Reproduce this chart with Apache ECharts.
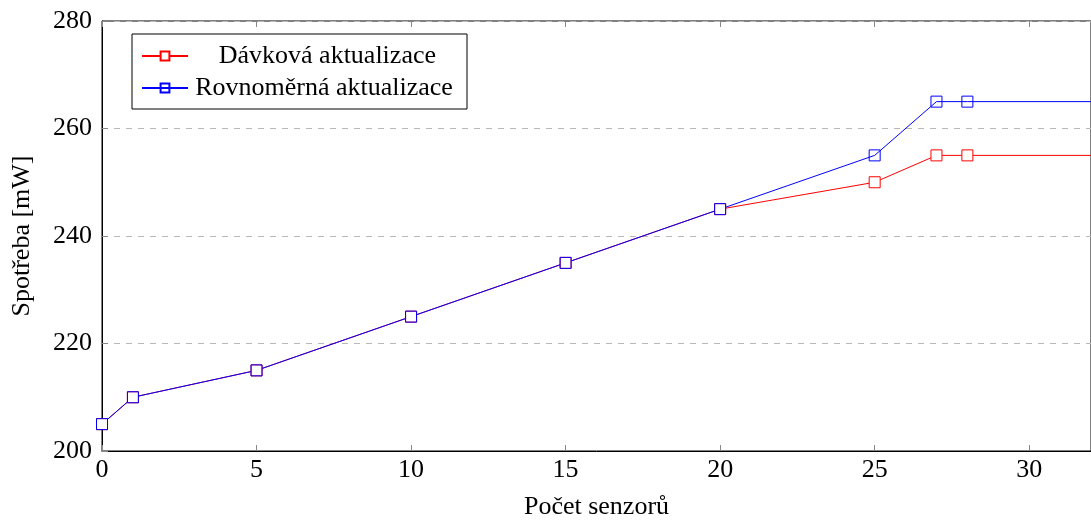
<!DOCTYPE html>
<html><head><meta charset="utf-8">
<script src="https://cdn.jsdelivr.net/npm/echarts@6/dist/echarts.min.js"></script>
<style>html,body{margin:0;padding:0;background:#fff}#c{width:1091px;height:525px}</style>
</head><body><div id="c"></div>
<script>
const xValues = [0, 1, 5, 10, 15, 20, 25, 27, 28, 32];
const davkova = [205, 210, 215, 225, 235, 245, 250, 255, 255, 255];
const rovnomerna = [205, 210, 215, 225, 235, 245, 255, 265, 265, 265];
const seriesNames = ['Dávková aktualizace', 'Rovnoměrná aktualizace'];
const xAxisName = 'Počet senzorů';
const yAxisName = 'Spotřeba [mW]';

const font = 'Liberation Serif';
const fs = 26;
function toData(vals) {
  return vals.map((v, i) => {
    const d = { value: [xValues[i], v] };
    if (i === vals.length - 1) d.symbol = 'none';
    return d;
  });
}
const chart = echarts.init(document.getElementById('c'), null, { renderer: 'canvas' });
chart.setOption({
  animation: false,
  textStyle: { fontFamily: font },
  grid: { left: 102, right: -3, top: 21, bottom: 69, show: true, borderColor: '#000', borderWidth: 1 },
  legend: {
    orient: 'vertical', left: 132, top: 34,
    padding: [9, 12, 8, 9], itemGap: 6,
    itemWidth: 46, itemHeight: 11,
    borderColor: '#000', borderWidth: 1, backgroundColor: '#fff',
    formatter: n => (n === seriesNames[0] ? '{a|' : '{b|') + n + '}',
    textStyle: { fontFamily: font, fontSize: fs, color: '#000',
      rich: {
        a: { fontFamily: font, fontSize: fs, width: 243, align: 'right', lineHeight: 26 },
        b: { fontFamily: font, fontSize: fs, width: 262, align: 'center', lineHeight: 26 }
      } },
    data: seriesNames
  },
  xAxis: [{
    type: 'value', min: 0, max: 32, interval: 5,
    name: xAxisName, nameLocation: 'middle', nameGap: 43,
    nameTextStyle: { fontFamily: font, fontSize: fs, color: '#000' },
    axisLine: { show: true, onZero: false, lineStyle: { color: '#000', width: 1 } },
    axisTick: { show: true, inside: true, length: 6, lineStyle: { color: '#888' } },
    axisLabel: { fontFamily: font, fontSize: fs, color: '#000', margin: 6, showMaxLabel: false },
    splitLine: { show: false }
  }, {
    type: 'value', min: 0, max: 32, interval: 5, position: 'top',
    axisLine: { show: false },
    axisTick: { show: true, inside: true, length: 6, lineStyle: { color: '#888' } },
    axisLabel: { show: false }, splitLine: { show: false }
  }],
  yAxis: [{
    type: 'value', min: 200, max: 280, interval: 20,
    name: yAxisName, nameLocation: 'middle', nameGap: 67, nameRotate: 90,
    nameTextStyle: { fontFamily: font, fontSize: fs, color: '#000' },
    axisLine: { show: true, lineStyle: { color: '#000', width: 1 } },
    axisTick: { show: true, inside: true, length: 6, lineStyle: { color: '#888' } },
    axisLabel: { fontFamily: font, fontSize: fs, color: '#000', margin: 10 },
    splitLine: { show: true, lineStyle: { color: '#b8b8b8', type: [6, 6], width: 1 } }
  }],
  series: [{
    name: seriesNames[0], type: 'line', data: toData(davkova),
    symbol: 'rect', symbolSize: 11, showAllSymbol: true, clip: true,
    itemStyle: { color: '#fff', borderColor: '#ff0000', borderWidth: 1 },
    lineStyle: { color: '#ff0000', width: 1 }, color: '#ff0000'
  }, {
    name: seriesNames[1], type: 'line', data: toData(rovnomerna),
    symbol: 'rect', symbolSize: 11, showAllSymbol: true, clip: true,
    itemStyle: { color: 'rgba(0,0,0,0)', borderColor: '#0000ff', borderWidth: 1 },
    lineStyle: { color: '#0000ff', width: 1 }, color: '#0000ff'
  }]
});
</script></body></html>
